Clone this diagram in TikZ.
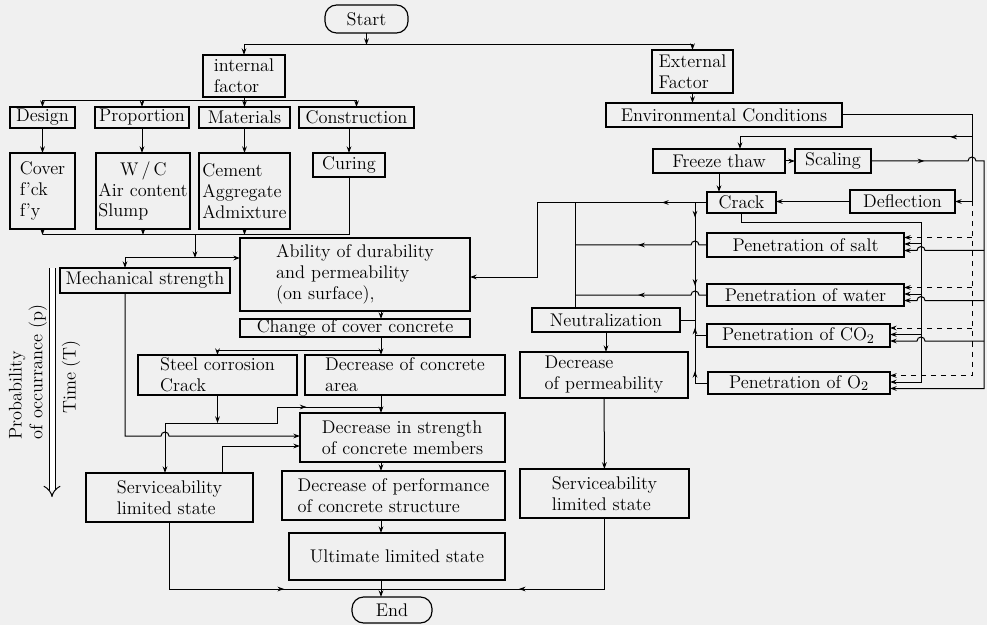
\documentclass[tikz,border=0pt]{standalone}
\usetikzlibrary{arrows.meta,calc,decorations.markings}

\tikzset{
  >={Stealth[length=4pt,width=2.8pt]},
  box/.style={draw, line width=0.7pt, inner sep=0pt, outer sep=0pt, align=left},
  cbox/.style={box, align=center},
  pill/.style={cbox, rounded corners=7pt},
  dims/.style 2 args={minimum width=#1*0.6pt, minimum height=#2*0.6pt},
  wire/.style={line width=0.6pt},
  mid arrow/.style={postaction={decorate, decoration={markings, mark=at position #1 with {\arrow{>}}}}},
}

\begin{document}
\begin{tikzpicture}[x=0.6pt, y=-0.6pt, font=\fontsize{11}{12.5}\selectfont]
    \useasboundingbox (0,0) rectangle (987,625);
    \fill[black!6] (0,0) rectangle (987,625);

    % bus lines
    \coordinate (colx) at (381,0);
    \coordinate (lb) at (165,0);
    \coordinate (ab) at (537,0);
    \coordinate (nb) at (575,0);
    \coordinate (vb) at (695,0);
    \coordinate (cb) at (921,0);
    \coordinate (db) at (972,0);
    \coordinate (sb) at (984,0);

    % internal side
    \node[pill, dims={83}{28}] (start) at (366.5,19) {Start};
    \node[box, dims={82}{42}] (internal) at (244,76) {internal\\factor};
    \node[cbox, dims={65}{21}] (design) at (42.5,117.5) {Design};
    \node[cbox, dims={94}{21}] (proportion) at (142,117.5) {Proportion};
    \node[cbox, dims={91}{21}] (materials) at (244.5,117.5) {Materials};
    \node[cbox, dims={115}{21}] (construction) at (356.5,117.5) {Construction};
    \node[box, dims={65}{76}] (cover) at (42.5,191) {Cover\\f'ck\\f'y};
    \node[box, dims={94}{76}] (wc) at (143,191) {\hspace*{13pt}W\,/\,C\\Air content\\Slump};
    \node[box, dims={91}{76}] (cement) at (244.5,191) {Cement\\Aggregate\\Admixture};
    \node[cbox, dims={72}{24}] (curing) at (349,165) {Curing};
    \node[box, dims={230}{73}] (ability) at (355,274.5) {Ability of durability\\and permeability\\(on surface),};
    \node[cbox, dims={170}{25}] (mech) at (145,280.5) {Mechanical strength};
    \node[cbox, dims={230}{18}] (change) at (355,328) {Change of cover concrete};
    \node[box, dims={159}{40}] (steel) at (217.5,375) {Steel corrosion\\Crack};
    \node[box, dims={200}{40}] (area) at (405,375) {Decrease of concrete\\area};
    \node[box, dims={205}{49}] (strength) at (402.5,437.5) {Decrease in strength\\of concrete members};
    \node[box, dims={167}{49}] (servL) at (169.5,497.5) {Serviceability\\limited state};
    \node[box, dims={223}{49}] (perf) at (393.5,495.5) {Decrease of performance\\of concrete structure};
    \node[cbox, dims={216}{47}] (ultimate) at (397,556.5) {Ultimate limited state};
    \node[pill, dims={80}{26}] (finish) at (392,610) {End};

    % external side
    \node[box, dims={81}{43}] (external) at (692.5,71.5) {External\\Factor};
    \node[cbox, dims={236}{24}] (environment) at (724,115) {Environmental Conditions};
    \node[cbox, dims={132}{24}] (freeze) at (719,161) {Freeze thaw};
    \node[cbox, dims={76}{24}] (scaling) at (833,161) {Scaling};
    \node[cbox, dims={69}{21}] (crack) at (741.5,202.5) {Crack};
    \node[cbox, dims={105}{23}] (defl) at (902.5,201.5) {Deflection};
    \node[cbox, dims={197}{24}] (salt) at (805.5,245) {Penetration of salt};
    \node[cbox, dims={197}{22}] (water) at (805.5,295) {Penetration of water};
    \node[cbox, dims={183}{23}] (co2) at (798.5,335.5) {Penetration of CO$_2$};
    \node[cbox, dims={182}{22}] (o2) at (799,383) {Penetration of O$_2$};
    \node[cbox, dims={148}{24}] (neutral) at (606,320) {Neutralization};
    \node[box, dims={168}{46}] (perm) at (604,375) {Decrease\\of permeability};
    \node[box, dims={169}{49}] (servR) at (604.5,493.5) {Serviceability\\limited state};

    % axis labels
    \node[rotate=90, align=left] (prob) at (28,372) {Probability\\of occurrance (p)};
    \node[rotate=90] (time) at (71,377) {Time (T)};
    \draw[line width=0.6pt, double, double distance=3pt, -{Implies}] (52,268) -- (52,497);

    % start splits into the two factors
    \draw[wire,->] (start) -- (start.south |- 0,45) coordinate (split);
    \draw[wire,->] (split) -| (internal);
    \draw[wire,->] (split) -| (external);

    % internal factors
    \draw[wire] (internal) -- (internal.south |- 0,101) coordinate (isplit);
    \foreach \n in {design,proportion,materials,construction}
        \draw[wire,->] (isplit) -| (\n);
    \draw[wire,->] (design) -- (cover);
    \draw[wire,->] (proportion) -- (proportion |- wc.north);
    \draw[wire,->] (materials) -- (materials |- cement.north);
    \draw[wire,->] (construction.south -| curing) -- (curing);

    \draw[wire] (curing) |- (cover.south |- 0,235);
    \foreach \n in {cover,wc,cement}
        \draw[wire,->] (\n) -- (\n.south |- 0,235);
    \coordinate (merge) at (195,235);
    \draw[wire,->] (merge) -- ++(0,23) coordinate (msplit);
    \draw[wire,->] (msplit) -| ([xshift=-12pt]mech.north);
    \draw[wire,->] (msplit) -- (msplit -| ability.west);

    % deterioration chain
    \draw[wire,->] (ability.south -| colx) -- (change.north -| colx);
    \draw[wire,->] (change.south -| colx) -- (area.north -| colx);
    \draw[wire,->] (change.south -| colx) ++(0,13) -| (steel);
    \draw[wire,->] (steel) -- (steel.south |- 0,423) coordinate (sdown);
    \draw[wire,->] (sdown) -| (servL.north -| lb);
    \draw[wire,mid arrow=63pt] (sdown) -- (sdown -| 277,0) |- (colx |- 0,407);
    \draw[wire,->] (area.south -| colx) -- (strength.north -| colx);
    \draw[wire,->] ([xshift=-12pt]mech.south) |- ($(lb |- 0,436)+(-4,0)$)
        arc[start angle=180, end angle=0, radius=2.4pt] -- (strength.west |- 0,436);
    \draw[wire,->] ([xshift=32pt]servL.north) |- (strength.west |- 0,446);
    \draw[wire,->] (strength.south -| colx) -- (perf.north -| colx);
    \draw[wire,->] (perf.south -| colx) -- (ultimate.north -| colx);
    \draw[wire,->] (ultimate.south -| colx) -- (finish.north -| colx);
    \draw[wire,mid arrow=109pt] (servL) |- (colx |- 0,589);

    % external factors
    \draw[wire,->] (external) -- (external |- environment.north);
    \draw[wire] (environment) -| (db |- defl.east);
    \draw[wire,->] (db |- defl.east) -- (defl);
    \draw[wire,->,mid arrow=13pt] (db |- 0,137) -| ([xshift=12.6pt]freeze.north);
    \draw[wire,->] (freeze) -- (scaling);
    \draw[wire,->] (freeze) -- (freeze |- crack.north);
    \draw[wire,->] (defl) -- (defl.west -| crack.east);

    \foreach \pen in {salt,water,co2,o2} {
        \coordinate (\pen-d) at ([yshift=4.5pt]\pen.east);
        \coordinate (\pen-c) at ([yshift=0.6pt]\pen.east);
        \coordinate (\pen-s) at ([yshift=-3.3pt]\pen.east);
    }

    % three feeds into each penetration
    \draw[wire,dashed,->] (db |- defl.east) |- (o2-d);
    \draw[wire,->] (crack) -- (crack.south |- 0,223) -| (cb |- o2-c) -- (o2-c);
    \draw[wire,->,mid arrow=32pt] (scaling) -- ($(db |- scaling.east)+(-4,0)$)
        arc[start angle=180, end angle=0, radius=2.4pt] -| (sb |- o2-s) -- (o2-s);
    \foreach \pen in {salt,water,co2} {
        \draw[wire,dashed,->] (db |- \pen-d) -- (\pen-d);
        \draw[wire,->] (cb |- \pen-c) -- (\pen-c);
        \draw[wire,->] (sb |- \pen-s) -- ($(cb |- \pen-s)+(4,0)$)
            arc[start angle=0, end angle=180, radius=2.4pt] -- (\pen-s);
    }

    % back to the ability and to neutralization
    \draw[wire,->,mid arrow=27pt] (crack) -| (ab |- 0,277) -- (ability.east |- 0,277);
    \draw[wire] (crack.west -| nb) -- (neutral.north -| nb);
    \foreach \pen in {salt,water}
        \draw[wire,mid arrow=44pt] (\pen) -- ($(\pen -| vb)+(4,0)$)
            arc[start angle=0, end angle=180, radius=2.4pt] -- (\pen -| nb);
    \draw[wire,mid arrow=9pt,mid arrow=50pt] (crack.west -| vb) |- (neutral);
    \draw[wire,mid arrow=15pt,mid arrow=41pt] (o2) -| (neutral.east -| vb);
    \draw[wire] (co2) -- (co2 -| vb);
    \draw[wire,->] (neutral) -- (neutral |- perm.north);
    \draw[wire,->] (perm) -- (servR);
    \draw[wire,mid arrow=94pt] (servR) |- (colx |- 0,589);
\end{tikzpicture}
\end{document}
